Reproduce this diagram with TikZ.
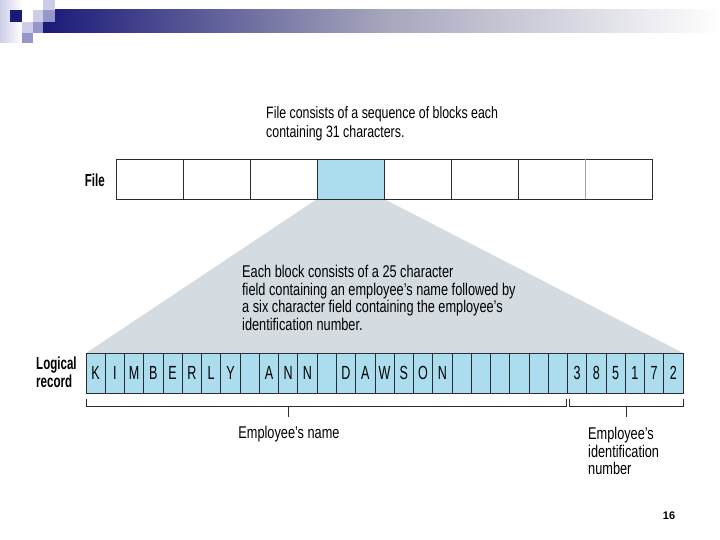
\documentclass[tikz,border=0pt]{standalone}
\usepackage{fontspec}
\setmainfont{Liberation Sans}[FakeStretch=0.75]
\newfontfamily\plainsans{Liberation Sans}
\newfontfamily\narrowfont{Liberation Sans}[FakeStretch=0.66]
\usetikzlibrary{calc}
\pgfdeclarelayer{background}
\pgfsetlayers{background,main}
\definecolor{navy}{RGB}{26,26,120}
\definecolor{barmid}{RGB}{165,165,188}
\definecolor{lavlight}{RGB}{205,205,232}
\definecolor{lavmed}{RGB}{150,150,202}
\definecolor{cellblue}{RGB}{172,221,238}
\definecolor{fangray}{RGB}{212,220,226}
\definecolor{edge}{RGB}{40,45,50}
\tikzset{
  filecell/.style={draw=edge, line width=0.9pt, minimum width=67pt, minimum height=40pt, inner sep=0pt, outer sep=0pt},
  reccell/.style={draw=edge, line width=0.7pt, fill=cellblue, minimum width=19.258pt, minimum height=40pt, inner sep=0pt, outer sep=0pt, font=\narrowfont\fontsize{19}{20}\selectfont},
  label/.style={inner sep=0pt, align=left, font=\fontsize{17}{17.5}\selectfont},
  boldlabel/.style={inner sep=0pt, align=left, font=\narrowfont\fontsize{17.5}{18}\selectfont\bfseries},
  bracket/.style={draw=edge, line width=0.9pt}
}
\begin{document}
\begin{tikzpicture}[x=1pt,y=-1pt]
\useasboundingbox (0,0) rectangle (720,540);
\begin{pgfonlayer}{background}
\fill[white] (0,0) rectangle (720,540);
\end{pgfonlayer}
% title bar decoration
\shade[left color=navy, right color=white, middle color=barmid] (43,10) rectangle (720,33);
\shade[left color=lavlight, right color=white] (0,0) rectangle (22,43);
\fill[navy] (10,10) rectangle (22,22);
\fill[lavlight] (22,22) rectangle (33,33);
\fill[lavlight] (33,10) rectangle (43,22);
\fill[lavmed] (33,22) rectangle (43,33);
\fill[lavlight] (43,0) rectangle (55,10);
\fill[lavmed] (43,10) rectangle (55,22);
\fill[lavmed] (22,33) rectangle (33,43);

% file row
\foreach \i in {1,...,8} {
  \node[filecell] (f\i) at ({116+67*(\i-0.5)},179) {};
}
\node[filecell, fill=cellblue] at (f4) {};
\draw[gray!70, line width=1pt] (f7.north east) -- (f7.south east);
\node[boldlabel, anchor=east] (filelbl) at (105,180) {File};
\node[label, anchor=north west, font=\fontsize{16.5}{19}\selectfont] (toptext) at (266,106)
  {File consists of a sequence of blocks each\\containing 31 characters.};

% logical record
\foreach \c [count=\i] in {K,I,M,B,E,R,L,Y,{},A,N,N,{},D,A,W,S,O,N,{},{},{},{},{},{},3,8,5,1,7,2} {
  \node[reccell] (r\i) at ({86+19.258*(\i-0.5)},373) {\c};
}
\node[boldlabel, anchor=north west] (reclbl) at (36,357) {Logical\\record};

% fan
\begin{pgfonlayer}{background}
\fill[fangray] (f4.south west) -- (f4.south east) -- (r31.north east) -- (r1.north west) -- cycle;
\end{pgfonlayer}
\node[label, anchor=north west, font=\fontsize{17}{17.5}\selectfont] (midtext) at (242,265)
  {Each block consists of a 25 character\\field containing an employee's name followed by\\a six character field containing the employee's\\identification number.};

% brackets
\coordinate (nbL) at ($(r1.south west)+(0,6)$);
\coordinate (nbR) at ($(r25.south east)+(-1.5,6)$);
\coordinate (ibL) at ($(r26.south west)+(1.5,6)$);
\coordinate (ibR) at ($(r31.south east)+(0,6)$);
\draw[bracket] (nbL) -- ++(0,7) -| (nbR);
\draw[bracket] (ibL) -- ++(0,7) -| (ibR);
\coordinate (ntick) at (288,406);
\coordinate (itick) at (626.5,406);
\draw[bracket] (ntick) -- ++(0,11);
\draw[bracket] (itick) -- ++(0,11);
\node[label, anchor=north] (namelbl) at (289,426) {Employee's name};
\node[label, anchor=north west] (idlbl) at (588,427) {Employee's\\identification\\number};

% page number
\node[inner sep=0pt, font=\plainsans\fontsize{11}{13}\selectfont\bfseries] (pagenum) at (669,516) {16};
\end{tikzpicture}
\end{document}
